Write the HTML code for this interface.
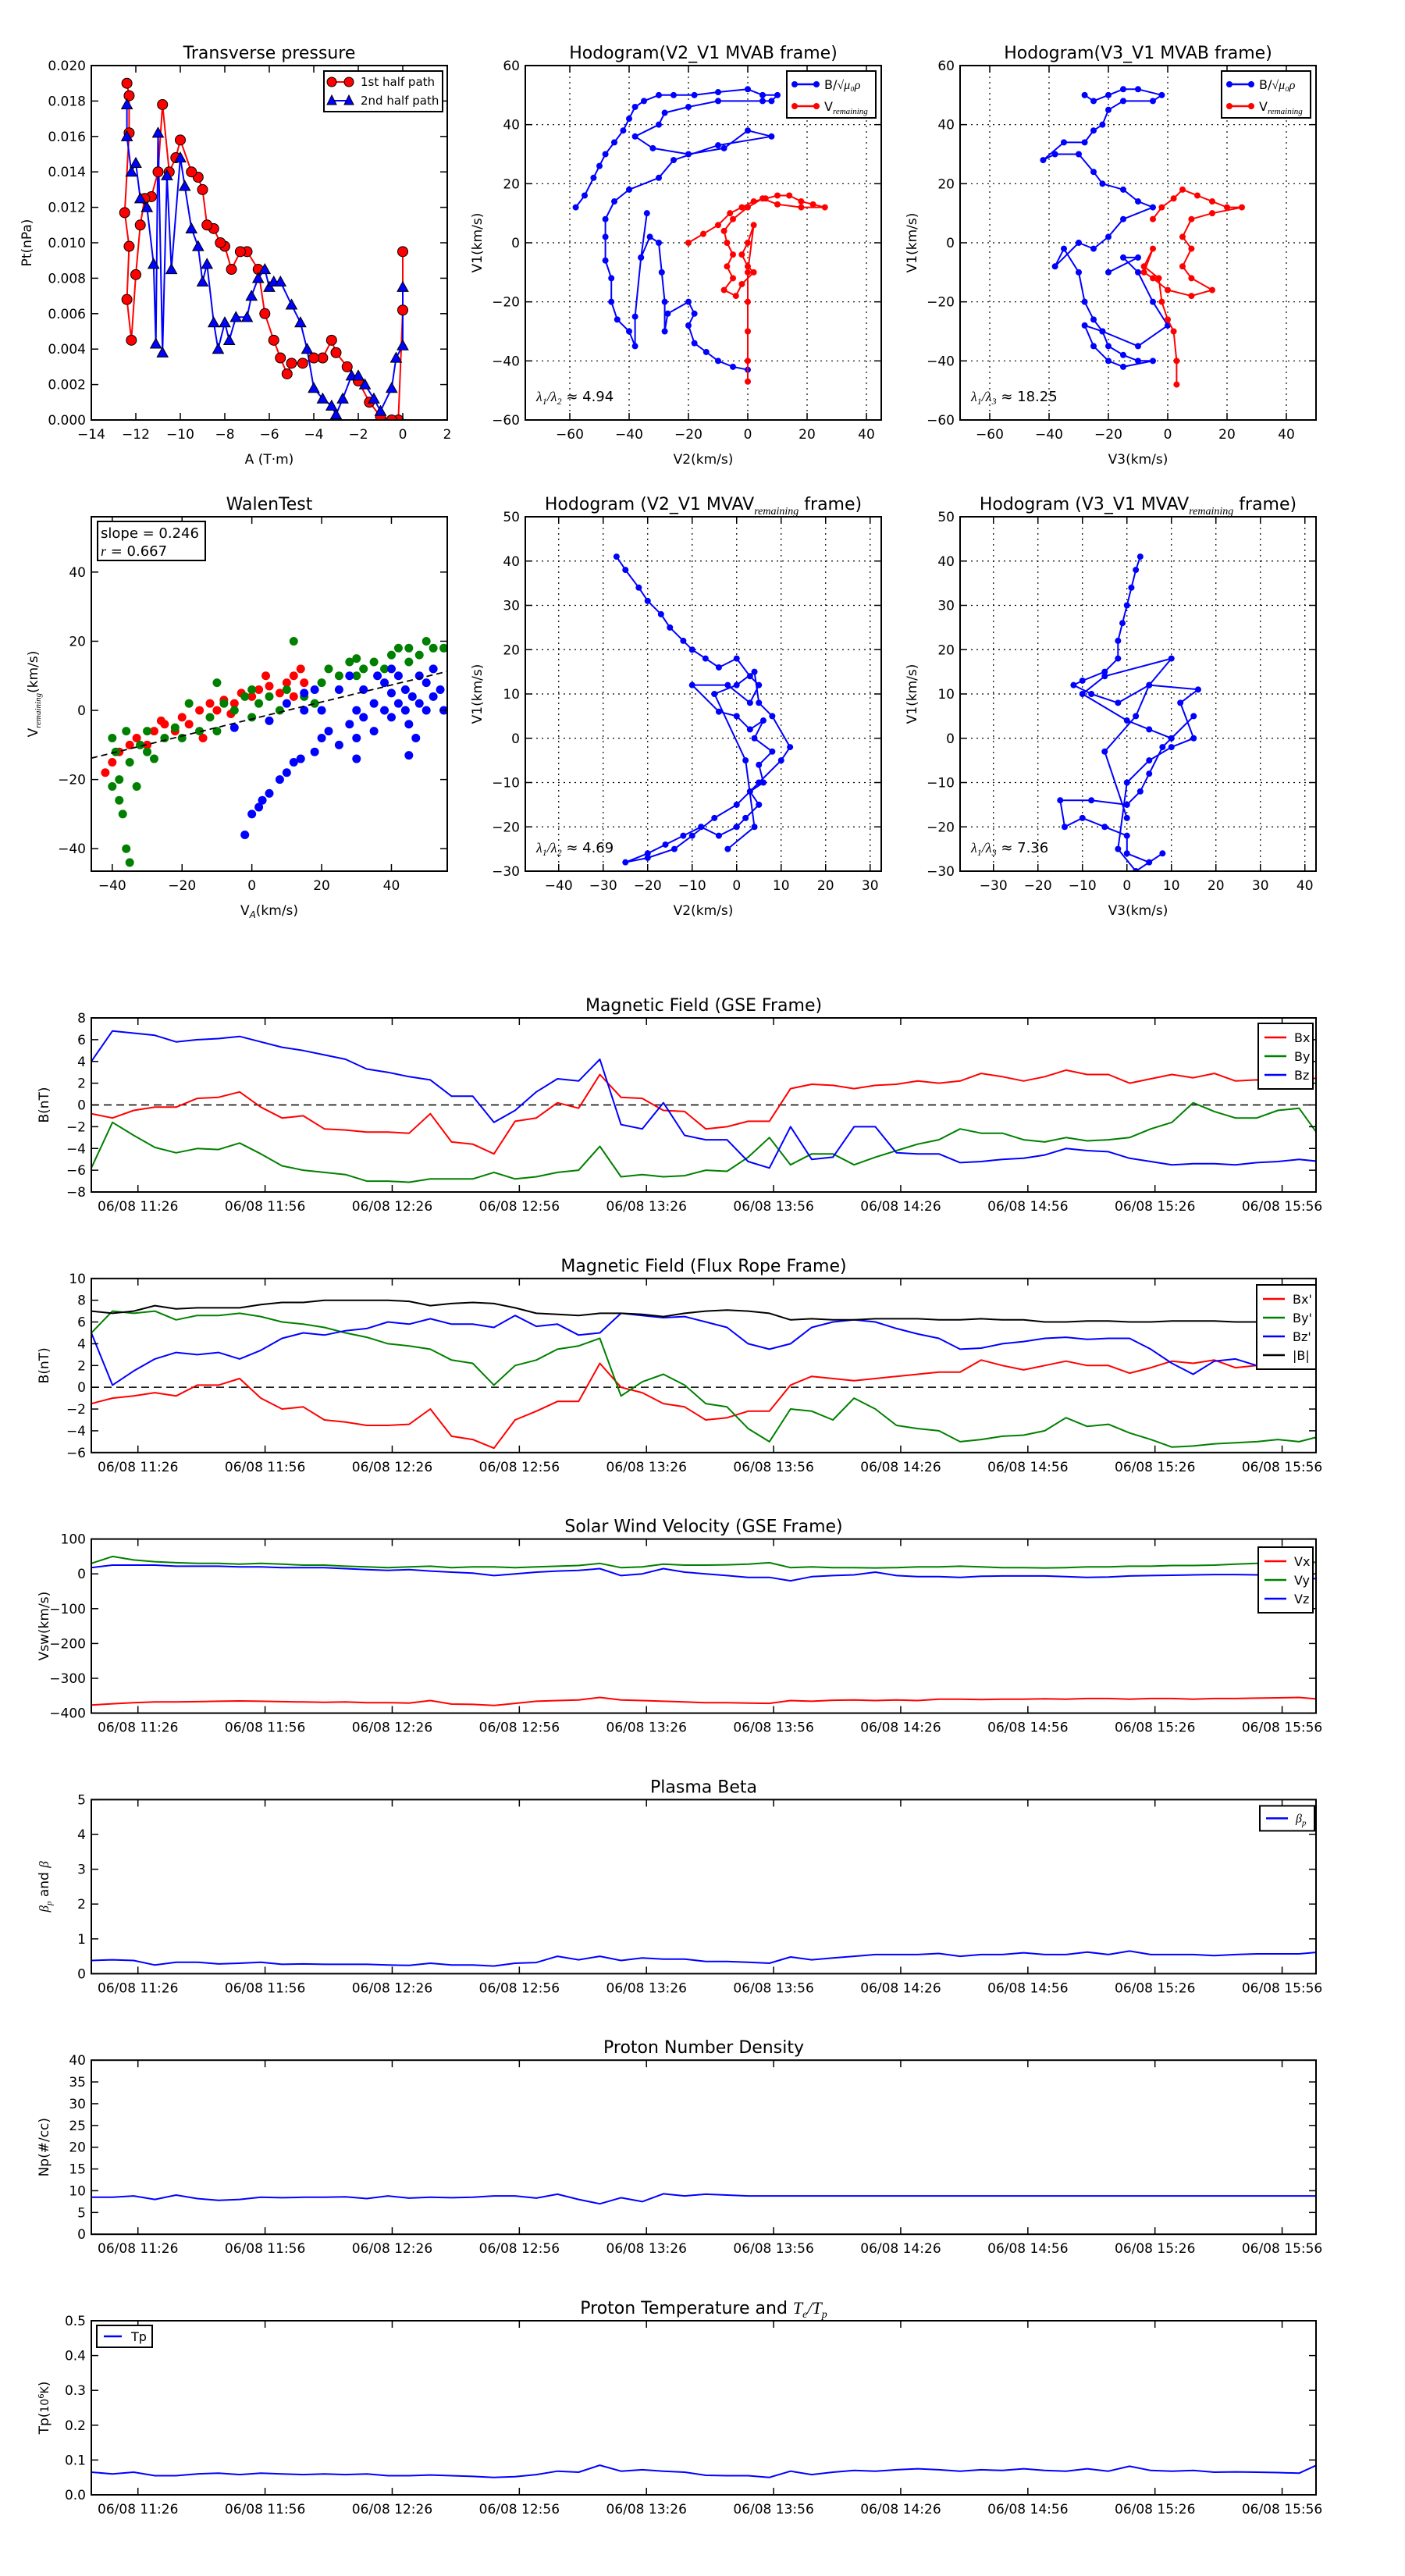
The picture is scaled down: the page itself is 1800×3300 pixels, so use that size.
<!DOCTYPE html>
<html><head><meta charset="utf-8"><title>Flux rope analysis</title>
<style>
html,body{margin:0;padding:0;background:#fff;}
svg{display:block;font-family:"DejaVu Sans","Liberation Sans",sans-serif;}
</style></head>
<body>
<svg id="fig" xmlns="http://www.w3.org/2000/svg" width="1800" height="3300" viewBox="0 0 1800 3300"></svg>
<script>
// ---------------- data ----------------
const timeMin = [0,5,10,15,20,25,30,35,40,45,50,55,60,65,70,75,80,85,90,95,100,105,110,115,120,125,130,135,140,145,150,155,160,165,170,175,180,185,190,195,200,205,210,215,220,225,230,235,240,245,250,255,260,265,270,275,280,285,290];
const timeTickMinAll = [11,41,71,101,131,161,191,221,251,281];
const timeTickLabelsFull = ["06/08 11:26","06/08 11:56","06/08 12:26","06/08 12:56","06/08 13:26","06/08 13:56","06/08 14:26","06/08 14:56","06/08 15:26","06/08 15:56"];

const bxGse = [-0.8,-1.2,-0.5,-0.2,-0.2,0.6,0.7,1.2,-0.2,-1.2,-1.0,-2.2,-2.3,-2.5,-2.5,-2.6,-0.8,-3.4,-3.6,-4.5,-1.5,-1.2,0.2,-0.3,2.8,0.7,0.6,-0.5,-0.6,-2.2,-2.0,-1.5,-1.5,1.5,1.9,1.8,1.5,1.8,1.9,2.2,2.0,2.2,2.9,2.6,2.2,2.6,3.2,2.8,2.8,2.0,2.4,2.8,2.5,2.9,2.2,2.3,2.0,2.3,2.5];
const byGse = [-5.8,-1.6,-2.8,-3.9,-4.4,-4.0,-4.1,-3.5,-4.5,-5.6,-6.0,-6.2,-6.4,-7.0,-7.0,-7.1,-6.8,-6.8,-6.8,-6.2,-6.8,-6.6,-6.2,-6.0,-3.8,-6.6,-6.4,-6.6,-6.5,-6.0,-6.1,-4.8,-3.0,-5.5,-4.5,-4.5,-5.5,-4.8,-4.2,-3.6,-3.2,-2.2,-2.6,-2.6,-3.2,-3.4,-3.0,-3.3,-3.2,-3.0,-2.2,-1.6,0.2,-0.6,-1.2,-1.2,-0.5,-0.3,-3.0];
const bzGse = [4.0,6.8,6.6,6.4,5.8,6.0,6.1,6.3,5.8,5.3,5.0,4.6,4.2,3.3,3.0,2.6,2.3,0.8,0.8,-1.6,-0.5,1.2,2.4,2.2,4.2,-1.8,-2.2,0.2,-2.8,-3.2,-3.2,-5.2,-5.8,-2.0,-5.0,-4.8,-2.0,-2.0,-4.4,-4.5,-4.5,-5.3,-5.2,-5.0,-4.9,-4.6,-4.0,-4.2,-4.3,-4.9,-5.2,-5.5,-5.4,-5.4,-5.5,-5.3,-5.2,-5.0,-5.2];

const bxFr = [-1.5,-1.0,-0.8,-0.5,-0.8,0.2,0.2,0.8,-1.0,-2.0,-1.8,-3.0,-3.2,-3.5,-3.5,-3.4,-2.0,-4.5,-4.8,-5.6,-3.0,-2.2,-1.3,-1.3,2.2,0.0,-0.5,-1.5,-1.8,-3.0,-2.8,-2.2,-2.2,0.2,1.0,0.8,0.6,0.8,1.0,1.2,1.4,1.4,2.5,2.0,1.6,2.0,2.4,2.0,2.0,1.3,1.8,2.4,2.2,2.5,1.8,2.0,1.8,1.8,2.0];
const byFr = [5.0,7.0,6.8,7.0,6.2,6.6,6.6,6.8,6.5,6.0,5.8,5.5,5.0,4.6,4.0,3.8,3.5,2.5,2.2,0.2,2.0,2.5,3.5,3.8,4.5,-0.8,0.5,1.2,0.2,-1.5,-1.8,-3.8,-5.0,-2.0,-2.2,-3.0,-1.0,-2.0,-3.5,-3.8,-4.0,-5.0,-4.8,-4.5,-4.4,-4.0,-2.8,-3.6,-3.4,-4.2,-4.8,-5.5,-5.4,-5.2,-5.1,-5.0,-4.8,-5.0,-4.5];
const bzFr = [5.0,0.2,1.5,2.6,3.2,3.0,3.2,2.6,3.4,4.5,5.0,4.8,5.2,5.4,6.0,5.8,6.3,5.8,5.8,5.5,6.6,5.6,5.8,4.8,5.0,6.8,6.6,6.4,6.5,6.0,5.5,4.0,3.5,4.0,5.5,6.0,6.2,6.0,5.4,4.9,4.5,3.5,3.6,4.0,4.2,4.5,4.6,4.4,4.5,4.5,3.5,2.2,1.2,2.4,2.6,2.0,1.8,2.0,4.5];
const bmagFr = [7.0,6.8,7.0,7.5,7.2,7.3,7.3,7.3,7.6,7.8,7.8,8.0,8.0,8.0,8.0,7.9,7.5,7.7,7.8,7.7,7.3,6.8,6.7,6.6,6.8,6.8,6.7,6.5,6.8,7.0,7.1,7.0,6.8,6.2,6.3,6.2,6.2,6.3,6.3,6.3,6.2,6.2,6.3,6.2,6.2,6.0,6.0,6.1,6.1,6.0,6.0,6.1,6.1,6.1,6.0,6.0,6.0,6.0,6.5];

const vx = [-377,-373,-370,-368,-368,-367,-366,-365,-366,-367,-368,-369,-368,-370,-370,-371,-364,-374,-375,-378,-372,-366,-364,-362,-355,-362,-364,-366,-368,-370,-370,-371,-372,-364,-366,-363,-362,-364,-362,-364,-360,-360,-361,-360,-360,-359,-360,-358,-358,-360,-358,-358,-360,-358,-358,-357,-356,-355,-360];
const vy = [30,50,40,35,32,30,30,28,30,28,25,25,22,20,18,20,22,18,20,20,18,20,22,24,30,18,20,28,25,25,26,28,32,18,20,18,18,17,18,20,20,22,20,18,18,17,18,20,20,22,22,24,24,25,28,30,34,36,32];
const vz = [18,25,25,25,22,22,22,20,20,18,18,18,15,12,10,12,8,5,2,-5,0,5,8,10,15,-5,0,15,5,0,-5,-10,-10,-20,-8,-5,-3,5,-5,-8,-8,-10,-7,-6,-6,-6,-8,-10,-9,-6,-5,-4,-3,-2,-2,-3,-5,-10,-15];

const betaP = [0.38,0.40,0.38,0.25,0.33,0.33,0.28,0.30,0.33,0.27,0.28,0.27,0.27,0.27,0.25,0.24,0.30,0.25,0.25,0.22,0.30,0.32,0.50,0.40,0.50,0.38,0.45,0.42,0.42,0.35,0.35,0.33,0.30,0.48,0.40,0.45,0.50,0.55,0.55,0.55,0.58,0.50,0.55,0.55,0.60,0.55,0.55,0.62,0.55,0.65,0.55,0.55,0.55,0.52,0.55,0.57,0.57,0.57,0.62];
const np = [8.5,8.5,8.8,8.0,9.0,8.2,7.8,8.0,8.5,8.4,8.5,8.5,8.6,8.2,8.8,8.3,8.5,8.4,8.5,8.8,8.8,8.3,9.2,8.0,7.0,8.4,7.5,9.3,8.8,9.2,9.0,8.8,8.8,8.8,8.8,8.8,8.8,8.8,8.8,8.8,8.8,8.8,8.8,8.8,8.8,8.8,8.8,8.8,8.8,8.8,8.8,8.8,8.8,8.8,8.8,8.8,8.8,8.8,8.8];
const tp = [0.065,0.060,0.065,0.055,0.055,0.060,0.062,0.058,0.062,0.060,0.058,0.060,0.058,0.060,0.055,0.055,0.057,0.055,0.053,0.050,0.052,0.058,0.068,0.065,0.085,0.068,0.072,0.068,0.065,0.056,0.055,0.055,0.050,0.068,0.058,0.065,0.070,0.068,0.072,0.075,0.072,0.068,0.072,0.070,0.075,0.070,0.068,0.075,0.068,0.082,0.070,0.068,0.070,0.065,0.066,0.065,0.064,0.062,0.090];

// transverse pressure (A, Pt)
const pt1A  = [0,0,-0.2,-0.5,-1,-1.5,-2,-2.5,-3,-3.2,-3.6,-4,-4.5,-5,-5.2,-5.5,-5.8,-6.2,-6.5,-7,-7.3,-7.7,-8,-8.2,-8.5,-8.8,-9,-9.2,-9.5,-10,-10.2,-10.5,-10.8,-11,-11.3,-11.6,-11.8,-12,-12.2,-12.4,-12.3,-12.5,-12.3,-12.3,-12.4];
const pt1Pt = [0.0095,0.0062,0,0,0.0002,0.001,0.0022,0.003,0.0038,0.0045,0.0035,0.0035,0.0032,0.0032,0.0026,0.0035,0.0045,0.006,0.0085,0.0095,0.0095,0.0085,0.0098,0.010,0.0108,0.011,0.013,0.0137,0.014,0.0158,0.0148,0.014,0.0178,0.014,0.0126,0.0125,0.011,0.0082,0.0045,0.0068,0.0098,0.0117,0.0162,0.0183,0.019];
const pt2A  = [-12.4,-12.4,-12.2,-12,-11.8,-11.5,-11.2,-11.1,-11,-10.8,-10.6,-10.4,-10,-9.8,-9.5,-9.2,-9,-8.8,-8.5,-8.3,-8,-7.8,-7.5,-7,-6.8,-6.5,-6.2,-6,-5.8,-5.5,-5,-4.6,-4.3,-4,-3.6,-3.2,-3,-2.7,-2.3,-2,-1.7,-1.3,-1,-0.5,-0.3,0,0];
const pt2Pt = [0.0178,0.016,0.014,0.0145,0.0125,0.012,0.0088,0.0043,0.0162,0.0038,0.0138,0.0085,0.0148,0.0132,0.0108,0.0098,0.0078,0.0088,0.0055,0.004,0.0055,0.0045,0.0058,0.0058,0.007,0.008,0.0085,0.0075,0.0078,0.0078,0.0065,0.0055,0.004,0.0018,0.0012,0.0008,0.0003,0.0012,0.0025,0.0025,0.002,0.0012,0.0005,0.0018,0.0035,0.0042,0.0075];

// hodogram MVAB V2-V1
const h1bV2 = [-58,-55,-52,-50,-48,-45,-42,-40,-38,-35,-30,-25,-18,-10,0,5,10,8,5,-10,-20,-28,-30,-38,-32,-20,-8,0,8,-10,-25,-30,-40,-45,-48,-48,-48,-46,-46,-44,-40,-38,-38,-36,-34,-36,-33,-30,-29,-28,-28,-27,-20,-18,-20,-18,-14,-10,-5,0];
const h1bV1 = [12,16,22,26,30,34,38,42,46,48,50,50,50,51,52,50,50,48,48,48,46,44,40,36,32,30,32,38,36,33,28,22,18,14,8,2,-6,-12,-20,-26,-30,-35,-25,-5,10,-5,2,0,-10,-20,-30,-24,-20,-24,-28,-34,-37,-40,-42,-43];
const h1rV2 = [-20,-15,-10,-6,-2,2,6,10,14,18,22,26,18,10,5,0,-5,-8,-7,-5,-7,-5,-8,-4,-2,2,0,-2,0,2,0,0,0,0,0];
const h1rV1 = [0,3,6,10,12,14,15,16,16,14,13,12,12,13,15,12,8,4,0,-4,-8,-12,-16,-18,-14,-10,-8,-4,0,6,-10,-20,-30,-40,-47];
// hodogram MVAB V3-V1
const h2bV3 = [-28,-25,-20,-15,-10,-2,-5,-15,-20,-22,-25,-28,-35,-42,-38,-30,-25,-22,-15,-10,-5,-15,-20,-25,-30,-38,-35,-30,-28,-25,-22,-20,-15,-10,-5,-15,-20,-25,-28,-22,-10,0,-5,-10,-15,-10,-20];
const h2bV1 = [50,48,50,52,52,50,48,48,45,40,38,34,34,28,30,30,24,20,18,14,12,8,2,-2,0,-8,-2,-10,-20,-26,-30,-35,-38,-40,-40,-42,-40,-35,-28,-30,-35,-28,-20,-10,-5,-5,-10];
const h2rV3 = [-5,-2,2,5,10,15,20,25,15,8,5,8,5,8,15,8,0,-5,-8,-5,-8,-3,-2,0,2,3,3];
const h2rV1 = [8,12,15,18,16,14,12,12,10,8,2,-2,-8,-12,-16,-18,-16,-12,-10,-2,-8,-12,-20,-26,-30,-40,-48];

// Walen test (V_A, V_remaining)
const walenRedVA = [-42,-40,-38,-35,-33,-30,-28,-25,-22,-20,-18,-15,-12,-10,-8,-5,-3,0,2,5,8,10,12,14,15,-26,-14,-6,4,12];
const walenRedVR = [-18,-15,-12,-10,-8,-10,-6,-4,-6,-2,-4,0,2,0,3,2,5,4,6,7,5,8,10,12,8,-3,-8,-1,10,4];
const walenGreenVA = [-40,-39,-38,-37,-36,-35,-33,-40,-38,-35,-32,-30,-28,-25,-22,-20,-15,-12,-10,-8,-5,-2,0,2,5,8,10,12,15,18,20,22,25,28,30,32,35,38,40,42,45,48,50,52,55,-36,-30,-18,-10,0,30,45];
const walenGreenVR = [-8,-12,-20,-30,-40,-44,-22,-22,-26,-15,-10,-12,-14,-8,-5,-8,-6,-2,-6,2,0,4,-2,2,4,0,6,20,4,2,8,12,10,14,10,12,14,12,16,18,14,16,20,18,18,-6,-6,2,8,6,15,18];
const walenBlueVA = [-2,0,2,3,5,8,10,12,14,18,20,22,25,28,30,30,32,35,35,38,38,40,40,42,42,44,44,45,46,47,48,48,50,50,52,52,54,55,10,15,18,20,25,28,32,36,-5,5,15,40,45,30];
const walenBlueVR = [-36,-30,-28,-26,-24,-20,-18,-15,-14,-12,-8,-6,-10,-4,0,-8,-2,2,-6,0,8,-2,5,2,10,0,6,-4,4,-8,2,10,0,8,4,12,6,0,2,0,6,0,6,10,6,10,-5,-3,5,12,-13,-14];
const walenSlope = 0.246;
const walenIntercept = -2.5;

// hodogram MVAV remaining V2-V1
const h3V2 = [-27,-25,-22,-20,-17,-15,-12,-10,-7,-4,0,3,5,3,-2,-10,-4,0,3,6,4,8,5,6,3,5,2,0,-4,-8,-12,-16,-20,-25,-20,-14,-10,-5,0,5,10,12,8,5,4,0,-5,2,4,-2];
const h3V1 = [41,38,34,31,28,25,22,20,18,16,18,14,12,8,12,12,6,5,2,4,0,-3,-6,-10,-12,-15,-18,-20,-22,-20,-22,-24,-26,-28,-27,-25,-22,-18,-15,-10,-5,-2,5,8,15,12,10,-5,-20,-25];
// hodogram MVAV remaining V3-V1
const h4V3 = [3,2,1,0,-1,-2,-2,-5,-10,-12,-8,-2,5,10,-5,-10,0,5,10,15,8,5,3,0,-8,-15,-14,-10,-5,0,0,5,8,2,-2,0,5,10,15,12,16,5,2,-5,0];
const h4V1 = [41,38,34,30,26,22,18,15,13,12,10,8,12,18,14,10,4,2,0,5,-2,-8,-12,-15,-14,-14,-20,-18,-20,-22,-26,-28,-26,-30,-25,-10,-5,-2,0,8,11,12,5,-3,-18];

// ---------------- drawing helpers ----------------
const NS = "http://www.w3.org/2000/svg";
const svg = document.getElementById("fig");
function mk(tag, attrs, name, parent) {
  const e = document.createElementNS(NS, tag);
  for (const k in attrs) e.setAttribute(k, attrs[k]);
  
  
  (parent || svg).appendChild(e);
  return e;
}
function txt(x, y, s, size, anchor, name, parent, extra) {
  const t = mk("text", Object.assign({x: x, y: y, "font-size": size, "text-anchor": anchor || "middle", fill: "#000"}, extra || {}), name, parent);
  t.textContent = s;
  return t;
}
let clipId = 0;
function axes(c) {
  const g = mk("g", {}, c.name, svg);
  const sx = v => c.x0 + (v - c.xd[0]) / (c.xd[1] - c.xd[0]) * (c.x1 - c.x0);
  const sy = v => c.y1 - (v - c.yd[0]) / (c.yd[1] - c.yd[0]) * (c.y1 - c.y0);
  if (c.grid) {
    c.xt.forEach(v => { mk("line", {x1: sx(v), x2: sx(v), y1: c.y0, y2: c.y1, stroke: "#000", "stroke-width": 1.2, "stroke-dasharray": "2,5"}, "x-grid-line", g); });
    c.yt.forEach(v => { mk("line", {x1: c.x0, x2: c.x1, y1: sy(v), y2: sy(v), stroke: "#000", "stroke-width": 1.2, "stroke-dasharray": "2,5"}, "y-grid-line", g); });
  }
  const cid = "clip" + (clipId++);
  const defs = mk("defs", {}, "clip-defs", g);
  const cp = mk("clipPath", {id: cid}, "plot-clip", defs);
  mk("rect", {x: c.x0, y: c.y0, width: c.x1 - c.x0, height: c.y1 - c.y0}, "clip-rect", cp);
  const plot = mk("g", {"clip-path": "url(#" + cid + ")"}, "plot-area", g);
  const tl = 9;
  c.xt.forEach((v, i) => {
    const x = sx(v);
    mk("line", {x1: x, x2: x, y1: c.y1, y2: c.y1 - tl, stroke: "#000", "stroke-width": 1.5}, "x-tick", g);
    mk("line", {x1: x, x2: x, y1: c.y0, y2: c.y0 + tl, stroke: "#000", "stroke-width": 1.5}, "x-tick-top", g);
    txt(x, c.y1 + 24, c.xl[i], 17, "middle", "x-tick-label", g);
  });
  c.yt.forEach((v, i) => {
    const y = sy(v);
    mk("line", {x1: c.x0, x2: c.x0 + tl, y1: y, y2: y, stroke: "#000", "stroke-width": 1.5}, "y-tick", g);
    mk("line", {x1: c.x1, x2: c.x1 - tl, y1: y, y2: y, stroke: "#000", "stroke-width": 1.5}, "y-tick-right", g);
    txt(c.x0 - 7, y + 6, c.yl[i], 17, "end", "y-tick-label", g);
  });
  mk("rect", {x: c.x0, y: c.y0, width: c.x1 - c.x0, height: c.y1 - c.y0, fill: "none", stroke: "#000", "stroke-width": 2}, "axes-frame", g);
  if (c.title) {
    const t = txt((c.x0 + c.x1) / 2, c.y0 - 9, "", 22, "middle", "chart-title", g);
    t.innerHTML = c.title;
  }
  if (c.xlabel) {
    const t = txt((c.x0 + c.x1) / 2, c.y1 + 56, "", 17, "middle", "x-axis-title", g);
    t.innerHTML = c.xlabel;
  }
  if (c.ylabel) {
    const yx = c.ylx || (c.x0 - 50);
    const t = txt(yx, (c.y0 + c.y1) / 2, "", 17, "middle", "y-axis-title", g, {transform: "rotate(-90 " + yx + " " + (c.y0 + c.y1) / 2 + ")"});
    t.innerHTML = c.ylabel;
  }
  return {sx, sy, plot, g};
}
function polyline(ax, xs, ys, color, w, name) {
  const pts = xs.map((x, i) => ax.sx(x).toFixed(1) + "," + ax.sy(ys[i]).toFixed(1)).join(" ");
  return mk("polyline", {points: pts, fill: "none", stroke: color, "stroke-width": w, "stroke-linejoin": "round"}, name, ax.plot);
}
function dots(ax, xs, ys, color, r, name, edge) {
  xs.forEach((x, i) => {
    mk("circle", {cx: ax.sx(x), cy: ax.sy(ys[i]), r: r, fill: color, stroke: edge || color, "stroke-width": edge ? 1 : 0}, name, ax.plot);
  });
}
function tris(ax, xs, ys, color, s, name) {
  xs.forEach((x, i) => {
    const cx = ax.sx(x), cy = ax.sy(ys[i]);
    mk("polygon", {points: (cx) + "," + (cy - s) + " " + (cx - s) + "," + (cy + s * 0.8) + " " + (cx + s) + "," + (cy + s * 0.8), fill: color, stroke: "#000", "stroke-width": 1}, name, ax.plot);
  });
}
function range(a, b, s) { const r = []; for (let v = a; v <= b + 1e-9; v += s) r.push(+v.toFixed(6)); return r; }
function mlab(v) { return (v < 0 ? "\u2212" : "") + Math.abs(v); }
function legendBox(x, y, w, h, name) {
  const g = mk("g", {}, name, svg);
  mk("rect", {x: x, y: y, width: w, height: h, fill: "#fff", stroke: "#000", "stroke-width": 2}, "legend-frame", g);
  return g;
}
function legendLine(g, x, y, color, label, name, marker) {
  mk("line", {x1: x, x2: x + 28, y1: y, y2: y, stroke: color, "stroke-width": 2.5}, name + "-swatch", g);
  if (marker === "dot") {
    mk("circle", {cx: x, cy: y, r: 4, fill: color}, name + "-marker", g);
    mk("circle", {cx: x + 28, cy: y, r: 4, fill: color}, name + "-marker", g);
  }
  const t = txt(x + 38, y + 6, "", 16, "start", name + "-label", g);
  t.innerHTML = label;
}

// ---------------- row 1 ----------------
const R1 = {y0: 84, y1: 538}, R2 = {y0: 662, y1: 1116};
const P1 = {x0: 117, x1: 573}, P2 = {x0: 673, x1: 1129}, P3 = {x0: 1230, x1: 1686};

const ptTicksX = range(-14, 2, 2);
const ptTicksY = range(0, 0.02, 0.002);
const axPt = axes({name: "transverse-pressure-chart", x0: P1.x0, x1: P1.x1, y0: R1.y0, y1: R1.y1, xd: [-14, 2], yd: [0, 0.02],
  xt: ptTicksX, xl: ptTicksX.map(mlab), yt: ptTicksY, yl: ptTicksY.map(v => v.toFixed(3)),
  title: "Transverse pressure", xlabel: "A (T\u00b7m)", ylabel: "Pt(nPa)", ylx: 40});
polyline(axPt, pt1A, pt1Pt, "#ff0000", 2, "first-half-path-line");
polyline(axPt, pt2A, pt2Pt, "#0000ff", 2, "second-half-path-line");
dots(axPt, pt1A, pt1Pt, "#ff0000", 6.5, "first-half-marker", "#000");
tris(axPt, pt2A, pt2Pt, "#0000ff", 7, "second-half-marker");
{
  const g = legendBox(415, 91, 152, 52, "pressure-legend");
  mk("line", {x1: 425, x2: 447, y1: 105, y2: 105, stroke: "#ff0000", "stroke-width": 2}, "legend-line-1st", g);
  mk("circle", {cx: 425, cy: 105, r: 6, fill: "#ff0000", stroke: "#000"}, "legend-marker-1st", g);
  mk("circle", {cx: 447, cy: 105, r: 6, fill: "#ff0000", stroke: "#000"}, "legend-marker-1st", g);
  txt(462, 110, "1st half path", 15, "start", "legend-label-1st", g);
  mk("line", {x1: 425, x2: 447, y1: 129, y2: 129, stroke: "#0000ff", "stroke-width": 2}, "legend-line-2nd", g);
  mk("polygon", {points: "425,122 419,134 431,134", fill: "#0000ff", stroke: "#000"}, "legend-marker-2nd", g);
  mk("polygon", {points: "447,122 441,134 453,134", fill: "#0000ff", stroke: "#000"}, "legend-marker-2nd", g);
  txt(462, 134, "2nd half path", 15, "start", "legend-label-2nd", g);
}

const hTicksX = range(-60, 40, 20), hTicksY = range(-60, 60, 20);
const axH1 = axes({name: "hodogram-v2-v1-mvab", x0: P2.x0, x1: P2.x1, y0: R1.y0, y1: R1.y1, xd: [-75, 45], yd: [-60, 60],
  xt: hTicksX, xl: hTicksX.map(mlab), yt: hTicksY, yl: hTicksY.map(mlab), grid: true,
  title: "Hodogram(V2_V1 MVAB frame)", xlabel: "V2(km/s)", ylabel: "V1(km/s)", ylx: 617});
polyline(axH1, h1bV2, h1bV1, "#0000ff", 2, "b-alfven-path");
dots(axH1, h1bV2, h1bV1, "#0000ff", 4, "b-alfven-point");
polyline(axH1, h1rV2, h1rV1, "#ff0000", 2, "v-remaining-path");
dots(axH1, h1rV2, h1rV1, "#ff0000", 4, "v-remaining-point");
txt(687, 514, "", 18, "start", "eigenvalue-ratio", svg).innerHTML = '<tspan font-style="italic" font-family="Liberation Serif">λ<tspan font-size="12" dy="4">1</tspan><tspan dy="-4">/λ</tspan><tspan font-size="12" dy="4">2</tspan></tspan><tspan dy="-4"> ≈ 4.94</tspan>';

const h3TicksX = range(-60, 40, 20);
const axH2 = axes({name: "hodogram-v3-v1-mvab", x0: P3.x0, x1: P3.x1, y0: R1.y0, y1: R1.y1, xd: [-70, 50], yd: [-60, 60],
  xt: h3TicksX, xl: h3TicksX.map(mlab), yt: hTicksY, yl: hTicksY.map(mlab), grid: true,
  title: "Hodogram(V3_V1 MVAB frame)", xlabel: "V3(km/s)", ylabel: "V1(km/s)", ylx: 1174});
polyline(axH2, h2bV3, h2bV1, "#0000ff", 2, "b-alfven-path");
dots(axH2, h2bV3, h2bV1, "#0000ff", 4, "b-alfven-point");
polyline(axH2, h2rV3, h2rV1, "#ff0000", 2, "v-remaining-path");
dots(axH2, h2rV3, h2rV1, "#ff0000", 4, "v-remaining-point");
txt(1244, 514, "", 18, "start", "eigenvalue-ratio", svg).innerHTML = '<tspan font-style="italic" font-family="Liberation Serif">λ<tspan font-size="12" dy="4">1</tspan><tspan dy="-4">/λ</tspan><tspan font-size="12" dy="4">3</tspan></tspan><tspan dy="-4"> ≈ 18.25</tspan>';

[[1008, "hodogram-v2-legend"], [1565, "hodogram-v3-legend"]].forEach(([lx, nm]) => {
  const g = legendBox(lx, 91, 114, 60, nm);
  legendLine(g, lx + 10, 108, "#0000ff", 'B/<tspan font-family="Liberation Serif" font-style="italic">√μ₀ρ</tspan>', "legend-b-alfven", "dot");
  legendLine(g, lx + 10, 136, "#ff0000", 'V<tspan font-size="11" dy="4" font-style="italic" font-family="Liberation Serif">remaining</tspan>', "legend-v-remaining", "dot");
});

// ---------------- row 2 ----------------
const wTicksX = range(-40, 40, 20), wTicksY = range(-40, 40, 20);
const axW = axes({name: "walen-test-chart", x0: P1.x0, x1: P1.x1, y0: R2.y0, y1: R2.y1, xd: [-46, 56], yd: [-46.5, 56],
  xt: wTicksX, xl: wTicksX.map(mlab), yt: wTicksY, yl: wTicksY.map(mlab),
  title: "WalenTest", xlabel: 'V<tspan font-size="12" dy="4" font-style="italic">A</tspan><tspan dy="-4">(km/s)</tspan>',
  ylabel: 'V<tspan font-size="11" dy="4" font-style="italic" font-family="Liberation Serif">remaining</tspan><tspan dy="-4">(km/s)</tspan>', ylx: 48});
dots(axW, walenRedVA, walenRedVR, "#ff0000", 5.5, "walen-red-point");
dots(axW, walenGreenVA, walenGreenVR, "#008000", 5.5, "walen-green-point");
dots(axW, walenBlueVA, walenBlueVR, "#0000ff", 5.5, "walen-blue-point");
{
  const fx = [-46, 56];
  const fy = fx.map(v => walenSlope * v + walenIntercept);
  const l = polyline(axW, fx, fy, "#000", 1.8, "walen-fit-line");
  l.setAttribute("stroke-dasharray", "8,5");
  const g = mk("g", {}, "walen-stats-box", svg);
  mk("rect", {x: 125, y: 668, width: 138, height: 50, fill: "#fff", stroke: "#000", "stroke-width": 2}, "stats-frame", g);
  txt(129, 689, "slope = 0.246", 18, "start", "slope-text", g);
  txt(129, 712, "", 18, "start", "r-text", g).innerHTML = '<tspan font-style="italic" font-family="Liberation Serif">r</tspan> = 0.667';
}

const m2x = range(-40, 30, 10), m2y = range(-30, 50, 10);
const axH3 = axes({name: "hodogram-v2-v1-mvav", x0: P2.x0, x1: P2.x1, y0: R2.y0, y1: R2.y1, xd: [-47.5, 32.5], yd: [-30, 50],
  xt: m2x, xl: m2x.map(mlab), yt: m2y, yl: m2y.map(mlab), grid: true,
  title: 'Hodogram (V2_V1 MVAV<tspan font-size="14" dy="6" font-style="italic" font-family="Liberation Serif">remaining</tspan><tspan dy="-6"> frame)</tspan>',
  xlabel: "V2(km/s)", ylabel: "V1(km/s)", ylx: 617});
polyline(axH3, h3V2, h3V1, "#0000ff", 2, "v-remaining-path");
dots(axH3, h3V2, h3V1, "#0000ff", 4, "v-remaining-point");
txt(687, 1092, "", 18, "start", "eigenvalue-ratio", svg).innerHTML = '<tspan font-style="italic" font-family="Liberation Serif">λ<tspan font-size="12" dy="4">1</tspan><tspan dy="-4">/λ</tspan><tspan font-size="12" dy="4">2</tspan></tspan><tspan dy="-4"> ≈ 4.69</tspan>';

const m3x = range(-30, 40, 10);
const axH4 = axes({name: "hodogram-v3-v1-mvav", x0: P3.x0, x1: P3.x1, y0: R2.y0, y1: R2.y1, xd: [-37.5, 42.5], yd: [-30, 50],
  xt: m3x, xl: m3x.map(mlab), yt: m2y, yl: m2y.map(mlab), grid: true,
  title: 'Hodogram (V3_V1 MVAV<tspan font-size="14" dy="6" font-style="italic" font-family="Liberation Serif">remaining</tspan><tspan dy="-6"> frame)</tspan>',
  xlabel: "V3(km/s)", ylabel: "V1(km/s)", ylx: 1174});
polyline(axH4, h4V3, h4V1, "#0000ff", 2, "v-remaining-path");
dots(axH4, h4V3, h4V1, "#0000ff", 4, "v-remaining-point");
txt(1244, 1092, "", 18, "start", "eigenvalue-ratio", svg).innerHTML = '<tspan font-style="italic" font-family="Liberation Serif">λ<tspan font-size="12" dy="4">1</tspan><tspan dy="-4">/λ</tspan><tspan font-size="12" dy="4">3</tspan></tspan><tspan dy="-4"> ≈ 7.36</tspan>';

// ---------------- time series ----------------
const TSX0 = 117, TSX1 = 1686, TSH = 223, TS0 = 1304, TSD = 333.8;
function tsAxes(k, name, yd, yt, yl, title, ylabel) {
  const y0 = TS0 + TSD * k;
  return axes({name: name, x0: TSX0, x1: TSX1, y0: y0, y1: y0 + TSH, xd: [0, 289], yd: yd,
    xt: timeTickMinAll, xl: timeTickLabelsFull, yt: yt, yl: yl, title: title, ylabel: ylabel, ylx: 62});
}
function zeroLine(ax) {
  mk("line", {x1: TSX0, x2: TSX1, y1: ax.sy(0), y2: ax.sy(0), stroke: "#000", "stroke-width": 1.5, "stroke-dasharray": "10,6"}, "zero-line", ax.plot);
}
function tsLegend(x, y, w, entries, name) {
  const g = legendBox(x, y, w, entries.length * 24 + 12, name);
  entries.forEach((e, i) => legendLine(g, x + 8, y + 18 + i * 24, e[0], e[1], "legend-" + e[2]));
}

const gseT = range(-8, 8, 2);
const axG = tsAxes(0, "magnetic-field-gse-chart", [-8, 8], gseT, gseT.map(mlab), "Magnetic Field (GSE Frame)", "B(nT)");
zeroLine(axG);
polyline(axG, timeMin, bxGse, "#ff0000", 2, "bx-line");
polyline(axG, timeMin, byGse, "#008000", 2, "by-line");
polyline(axG, timeMin, bzGse, "#0000ff", 2, "bz-line");
tsLegend(1612, 1311, 70, [["#ff0000", "Bx", "bx"], ["#008000", "By", "by"], ["#0000ff", "Bz", "bz"]], "gse-legend");

const frT = range(-6, 10, 2);
const axF = tsAxes(1, "magnetic-field-flux-rope-chart", [-6, 10], frT, frT.map(mlab), "Magnetic Field (Flux Rope Frame)", "B(nT)");
zeroLine(axF);
polyline(axF, timeMin, bxFr, "#ff0000", 2, "bx-prime-line");
polyline(axF, timeMin, byFr, "#008000", 2, "by-prime-line");
polyline(axF, timeMin, bzFr, "#0000ff", 2, "bz-prime-line");
polyline(axF, timeMin, bmagFr, "#000000", 2, "b-magnitude-line");
tsLegend(1610, 1646, 76, [["#ff0000", "Bx'", "bx-prime"], ["#008000", "By'", "by-prime"], ["#0000ff", "Bz'", "bz-prime"], ["#000", "|B|", "b-magnitude"]], "flux-rope-legend");

const vT = range(-400, 100, 100);
const axV = tsAxes(2, "solar-wind-velocity-chart", [-400, 100], vT, vT.map(mlab), "Solar Wind Velocity (GSE Frame)", "Vsw(km/s)");
polyline(axV, timeMin, vx, "#ff0000", 2, "vx-line");
polyline(axV, timeMin, vy, "#008000", 2, "vy-line");
polyline(axV, timeMin, vz, "#0000ff", 2, "vz-line");
tsLegend(1612, 1982, 70, [["#ff0000", "Vx", "vx"], ["#008000", "Vy", "vy"], ["#0000ff", "Vz", "vz"]], "velocity-legend");

const bT = range(0, 5, 1);
const axB = tsAxes(3, "plasma-beta-chart", [0, 5], bT, bT.map(String), "Plasma Beta",
  '<tspan font-style="italic" font-family="Liberation Serif">β<tspan font-size="11" dy="4">p</tspan></tspan><tspan dy="-4"> and </tspan><tspan font-style="italic" font-family="Liberation Serif">β</tspan>');
polyline(axB, timeMin, betaP, "#0000ff", 2, "beta-p-line");
{
  const y0 = TS0 + TSD * 3 + 8;
  const g = legendBox(1614, y0, 70, 32, "beta-legend");
  mk("line", {x1: 1622, x2: 1650, y1: y0 + 16, y2: y0 + 16, stroke: "#0000ff", "stroke-width": 2.5}, "legend-beta-swatch", g);
  txt(1660, y0 + 21, "", 16, "start", "legend-beta-label", g).innerHTML = '<tspan font-style="italic" font-family="Liberation Serif">β<tspan font-size="11" dy="4">p</tspan></tspan>';
}

const nT = range(0, 40, 5);
const axN = tsAxes(4, "proton-density-chart", [0, 40], nT, nT.map(String), "Proton Number Density", "Np(#/cc)");
polyline(axN, timeMin, np, "#0000ff", 2, "np-line");

const tT = range(0, 0.5, 0.1);
const axT = tsAxes(5, "proton-temperature-chart", [0, 0.5], tT, tT.map(v => v.toFixed(1)),
  'Proton Temperature and <tspan font-style="italic" font-family="Liberation Serif">T<tspan font-size="14" dy="5">e</tspan><tspan dy="-5">/T</tspan><tspan font-size="14" dy="5">p</tspan></tspan>',
  'Tp(<tspan font-size="14">10<tspan font-size="10" dy="-6">6</tspan><tspan dy="6">K</tspan></tspan>)');
polyline(axT, timeMin, tp, "#0000ff", 2, "tp-line");
{
  const y0 = TS0 + TSD * 5 + 6;
  const g = legendBox(124, y0, 71, 28, "tp-legend");
  mk("line", {x1: 133, x2: 156, y1: y0 + 14, y2: y0 + 14, stroke: "#0000ff", "stroke-width": 2.5}, "legend-tp-swatch", g);
  txt(168, y0 + 20, "Tp", 16, "start", "legend-tp-label", g);
}
</script>
</body></html>
